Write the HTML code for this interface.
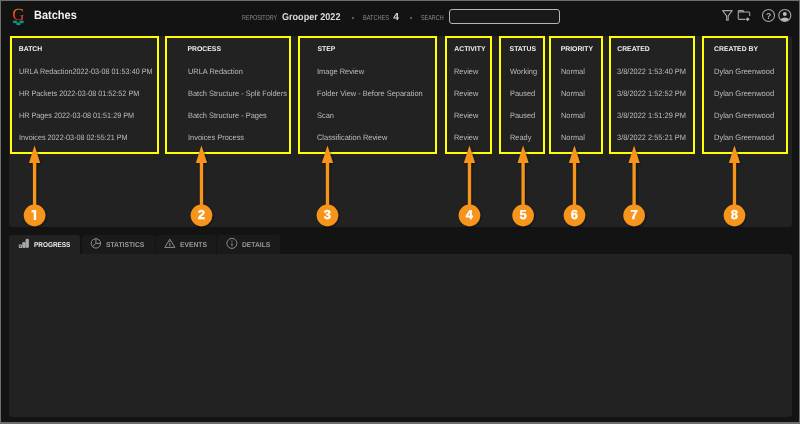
<!DOCTYPE html>
<html><head><meta charset="utf-8">
<style>
*{box-sizing:border-box;margin:0;padding:0}
html,body{width:800px;height:424px;overflow:hidden;background:#131313;font-family:"Liberation Sans",sans-serif;-webkit-font-smoothing:antialiased;text-rendering:geometricPrecision}
#root{position:absolute;left:0;top:0;width:800px;height:424px;will-change:transform}
.a{position:absolute;white-space:nowrap}
#frame{position:absolute;left:0;top:0;width:800px;height:424px;border:1px solid #6e6e6e;border-bottom-width:2px}
.panel{position:absolute;background:#222222;border-radius:3px}
.box{position:absolute;border:2px solid #ffff00}
.h{position:absolute;font-weight:700;font-size:6.85px;color:#f0f0f0;white-space:nowrap;line-height:8px}
.c{position:absolute;font-size:7.8px;color:#bdbdbd;white-space:nowrap;line-height:8px;transform:scaleX(0.942);transform-origin:0 0}
.tab{position:absolute;top:234.5px;height:19.5px;background:#1a1a1a;border-radius:3px 3px 0 0}
.tt{position:absolute;font-weight:700;font-size:7.1px;color:#9a9a9a;white-space:nowrap;line-height:8px;top:241px;transform:scaleX(0.95);transform-origin:0 0}
</style></head><body><div id="root">
<div class="panel" style="left:9px;top:36px;width:782.5px;height:190.5px"></div>
<div class="panel" style="left:9px;top:254px;width:782.5px;height:163px;border-radius:0 3px 3px 3px"></div>

<!-- header -->
<div class="a" style="left:34px;top:8.8px;font-weight:700;font-size:11.9px;line-height:12px;color:#f2f2f2;transform:scaleX(0.925);transform-origin:0 0">Batches</div>
<div class="a" style="left:242px;top:13.5px;font-size:7.2px;line-height:8px;color:#8c8c8c;transform:scaleX(0.748);transform-origin:0 0">REPOSITORY</div>
<div class="a" style="left:282.3px;top:12.5px;font-weight:700;font-size:9.9px;line-height:10px;color:#d8d8d8;transform:scaleX(0.918);transform-origin:0 0">Grooper 2022</div>
<div class="a" style="left:352px;top:17px;width:2px;height:2px;background:#777;border-radius:1px"></div>
<div class="a" style="left:363px;top:13.5px;font-size:7.2px;line-height:8px;color:#8c8c8c;transform:scaleX(0.78);transform-origin:0 0">BATCHES</div>
<div class="a" style="left:393.2px;top:12px;font-weight:700;font-size:10.2px;line-height:11px;color:#d8d8d8">4</div>
<div class="a" style="left:410px;top:17px;width:2px;height:2px;background:#777;border-radius:1px"></div>
<div class="a" style="left:420.6px;top:13.5px;font-size:7.2px;line-height:8px;color:#8c8c8c;transform:scaleX(0.756);transform-origin:0 0">SEARCH</div>
<div class="a" style="left:449.25px;top:9.25px;width:110.25px;height:15px;border:1px solid #b5b5b5;border-radius:3px;background:#191919"></div>

<!-- boxes -->
<div class="box" style="left:10px;top:36px;width:149.2px;height:118px"></div>
<div class="box" style="left:165px;top:36px;width:126px;height:118px"></div>
<div class="box" style="left:297.75px;top:36px;width:139.25px;height:118px"></div>
<div class="box" style="left:444.85px;top:36px;width:47.4px;height:118px"></div>
<div class="box" style="left:498.75px;top:36px;width:46px;height:118px"></div>
<div class="box" style="left:549px;top:36px;width:54.25px;height:118px"></div>
<div class="box" style="left:608.9px;top:36px;width:86.1px;height:118px"></div>
<div class="box" style="left:702px;top:36px;width:86.25px;height:118px"></div>

<!-- headers -->
<div class="h" style="left:18.8px;top:46px">BATCH</div>
<div class="h" style="left:187.5px;top:46px">PROCESS</div>
<div class="h" style="left:317.4px;top:46px">STEP</div>
<div class="h" style="left:454.3px;top:46px">ACTIVITY</div>
<div class="h" style="left:509.6px;top:46px">STATUS</div>
<div class="h" style="left:560.7px;top:46px">PRIORITY</div>
<div class="h" style="left:617.2px;top:46px">CREATED</div>
<div class="h" style="left:714px;top:46px">CREATED BY</div>

<!-- rows -->
<div class="c" style="left:18.5px;top:67.8px;transform:scaleX(0.928)">URLA Redaction2022-03-08 01:53:40 PM</div>
<div class="c" style="left:18.5px;top:89.9px;transform:scaleX(0.928)">HR Packets 2022-03-08 01:52:52 PM</div>
<div class="c" style="left:18.5px;top:112px;transform:scaleX(0.928)">HR Pages 2022-03-08 01:51:29 PM</div>
<div class="c" style="left:18.5px;top:134.1px;transform:scaleX(0.928)">Invoices 2022-03-08 02:55:21 PM</div>

<div class="c" style="left:187.5px;top:67.8px;transform:scaleX(0.951)">URLA Redaction</div>
<div class="c" style="left:187.5px;top:89.9px;transform:scaleX(0.951)">Batch Structure - Split Folders</div>
<div class="c" style="left:187.5px;top:112px;transform:scaleX(0.951)">Batch Structure - Pages</div>
<div class="c" style="left:187.5px;top:134.1px;transform:scaleX(0.951)">Invoices Process</div>

<div class="c" style="left:317.4px;top:67.8px;transform:scaleX(0.954)">Image Review</div>
<div class="c" style="left:317.4px;top:89.9px;transform:scaleX(0.954)">Folder View - Before Separation</div>
<div class="c" style="left:317.4px;top:112px;transform:scaleX(0.954)">Scan</div>
<div class="c" style="left:317.4px;top:134.1px;transform:scaleX(0.954)">Classification Review</div>

<div class="c" style="left:454.3px;top:67.8px;transform:scaleX(0.95)">Review</div>
<div class="c" style="left:454.3px;top:89.9px;transform:scaleX(0.95)">Review</div>
<div class="c" style="left:454.3px;top:112px;transform:scaleX(0.95)">Review</div>
<div class="c" style="left:454.3px;top:134.1px;transform:scaleX(0.95)">Review</div>

<div class="c" style="left:509.6px;top:67.8px;transform:scaleX(0.95)">Working</div>
<div class="c" style="left:509.6px;top:89.9px;transform:scaleX(0.95)">Paused</div>
<div class="c" style="left:509.6px;top:112px;transform:scaleX(0.95)">Paused</div>
<div class="c" style="left:509.6px;top:134.1px;transform:scaleX(0.95)">Ready</div>

<div class="c" style="left:560.7px;top:67.8px;transform:scaleX(0.95)">Normal</div>
<div class="c" style="left:560.7px;top:89.9px;transform:scaleX(0.95)">Normal</div>
<div class="c" style="left:560.7px;top:112px;transform:scaleX(0.95)">Normal</div>
<div class="c" style="left:560.7px;top:134.1px;transform:scaleX(0.95)">Normal</div>

<div class="c" style="left:617.2px;top:67.8px;transform:scaleX(0.953)">3/8/2022 1:53:40 PM</div>
<div class="c" style="left:617.2px;top:89.9px;transform:scaleX(0.953)">3/8/2022 1:52:52 PM</div>
<div class="c" style="left:617.2px;top:112px;transform:scaleX(0.953)">3/8/2022 1:51:29 PM</div>
<div class="c" style="left:617.2px;top:134.1px;transform:scaleX(0.953)">3/8/2022 2:55:21 PM</div>

<div class="c" style="left:714px;top:67.8px;transform:scaleX(0.964)">Dylan Greenwood</div>
<div class="c" style="left:714px;top:89.9px;transform:scaleX(0.964)">Dylan Greenwood</div>
<div class="c" style="left:714px;top:112px;transform:scaleX(0.964)">Dylan Greenwood</div>
<div class="c" style="left:714px;top:134.1px;transform:scaleX(0.964)">Dylan Greenwood</div>

<!-- tabs -->
<div class="tab" style="left:9px;width:70.5px;background:#222222"></div>
<div class="tab" style="left:81.5px;width:73px"></div>
<div class="tab" style="left:155.5px;width:60.5px"></div>
<div class="tab" style="left:217px;width:63px"></div>
<div class="tt" style="left:33.7px;top:241px;color:#eeeeee;transform:scaleX(0.905)">PROGRESS</div>
<div class="tt" style="left:105.5px">STATISTICS</div>
<div class="tt" style="left:179.8px">EVENTS</div>
<div class="tt" style="left:241.8px">DETAILS</div>

<svg class="a" style="left:0;top:0" width="800" height="424" viewBox="0 0 800 424">
<defs><filter id="sh" x="-50%" y="-50%" width="200%" height="200%"><feDropShadow dx="0.8" dy="0.8" stdDeviation="0.8" flood-color="#000" flood-opacity="0.6"/></filter></defs>
<g fill="#f7941d" filter="url(#sh)">
<g><polygon points="34.55,145.5 29.00,163 40.10,163"/><rect x="32.95" y="161" width="3.2" height="46"/><circle cx="34.55" cy="215.35" r="10.8"/></g>
<g><polygon points="201.45,145.5 195.90,163 207.00,163"/><rect x="199.85" y="161" width="3.2" height="46"/><circle cx="201.45" cy="215.35" r="10.8"/></g>
<g><polygon points="327.45,145.5 321.90,163 333.00,163"/><rect x="325.85" y="161" width="3.2" height="46"/><circle cx="327.45" cy="215.35" r="10.8"/></g>
<g><polygon points="469.45,145.5 463.90,163 475.00,163"/><rect x="467.85" y="161" width="3.2" height="46"/><circle cx="469.45" cy="215.35" r="10.8"/></g>
<g><polygon points="523.10,145.5 517.55,163 528.65,163"/><rect x="521.50" y="161" width="3.2" height="46"/><circle cx="523.10" cy="215.35" r="10.8"/></g>
<g><polygon points="574.45,145.5 568.90,163 580.00,163"/><rect x="572.85" y="161" width="3.2" height="46"/><circle cx="574.45" cy="215.35" r="10.8"/></g>
<g><polygon points="634.10,145.5 628.55,163 639.65,163"/><rect x="632.50" y="161" width="3.2" height="46"/><circle cx="634.10" cy="215.35" r="10.8"/></g>
<g><polygon points="734.45,145.5 728.90,163 740.00,163"/><rect x="732.85" y="161" width="3.2" height="46"/><circle cx="734.45" cy="215.35" r="10.8"/></g>
</g>
<g fill="#ffffff" stroke="#ffffff" stroke-width="0.35" font-family="Liberation Sans" font-weight="700" font-size="13">
<path stroke="none" d="M31.65 210.1 H36.15 V219.9 H33.75 V212.3 L31.65 212.5 Z"/>
<text x="201.45" y="219.2" text-anchor="middle">2</text>
<text x="327.45" y="219.2" text-anchor="middle">3</text>
<text x="469.45" y="219.2" text-anchor="middle">4</text>
<text x="523.10" y="219.2" text-anchor="middle">5</text>
<text x="574.45" y="219.2" text-anchor="middle">6</text>
<text x="634.10" y="219.2" text-anchor="middle">7</text>
<text x="734.45" y="219.2" text-anchor="middle">8</text>
</g>
</svg>
<svg class="a" style="left:0;top:0" width="800" height="424" viewBox="0 0 800 424">
<defs><linearGradient id="lg" x1="0" y1="0" x2="0" y2="1"><stop offset="0.15" stop-color="#f39a1a"/><stop offset="0.5" stop-color="#e4491f"/><stop offset="0.85" stop-color="#d82420"/></linearGradient></defs>
<text x="18.3" y="19.9" text-anchor="middle" font-family="Liberation Serif" font-weight="400" font-size="17" fill="url(#lg)">G</text>
<g fill="#0a9585"><ellipse cx="15.1" cy="21.9" rx="2.3" ry="1.35"/><ellipse cx="21.6" cy="21.9" rx="2.3" ry="1.35"/><ellipse cx="18.4" cy="23.9" rx="2.3" ry="1.35"/></g>
<g fill="none" stroke="#a4a4a4" stroke-width="1.1" stroke-linejoin="round" stroke-linecap="round">
<path d="M722.6 10.6 H732.2 L728.2 15.8 V20.2 H726.6 V15.8 Z"/>
<path d="M738.3 12 H744.2 M745 19.4 H739.2 Q738.3 19.4 738.3 18.5 V11.4 Q738.3 10.6 739.2 10.6 H743 L744.2 12 H748.8 Q749.7 12 749.7 12.9 V15.4"/>
<circle cx="768.5" cy="15.45" r="6"/>
<circle cx="784.8" cy="15.45" r="6"/>
</g>
<polygon points="747.6,17.3 749.6,19.3 747.6,21.3 745.6,19.3" fill="#b0b0b0"/>
<text x="768.5" y="18.7" text-anchor="middle" font-family="Liberation Sans" font-weight="700" font-size="8.6" fill="#b0b0b0">?</text>
<circle cx="784.8" cy="14" r="2" fill="#b8b8b8"/>
<path d="M780.3 19.3 Q784.8 15.6 789.3 19.3 A6 6 0 0 1 780.3 19.3 Z" fill="#b8b8b8"/>
<!-- tab icons -->
<g fill="#a8a8a8">
<rect x="18.8" y="244.6" width="3.3" height="3.3" rx="0.6"/>
<rect x="22.3" y="241.9" width="3.4" height="6" rx="1.2"/>
<rect x="25.6" y="238.8" width="3.3" height="9.1" rx="1.4"/>
</g>
<circle cx="20.45" cy="246.2" r="0.7" fill="#333"/>
<g fill="none" stroke="#8e8e8e" stroke-width="1">
<circle cx="95.9" cy="243.4" r="4.7"/>
<path d="M95.9 238.7 V243.4 H100.6 M95.9 243.4 L92.6 246.6"/>
<path d="M169.8 239.2 L174.9 247.4 H164.8 Z" stroke-linejoin="round"/>
<circle cx="231.9" cy="243.4" r="5"/>
</g>
<g fill="#8e8e8e">
<rect x="169.3" y="243" width="1" height="3.3"/><circle cx="169.8" cy="241.6" r="0.6"/>
<rect x="231.4" y="242.8" width="1.1" height="3.4"/><circle cx="231.95" cy="241.2" r="0.65"/>
</g>
</svg>
<div id="frame"></div></div>
</body></html>
